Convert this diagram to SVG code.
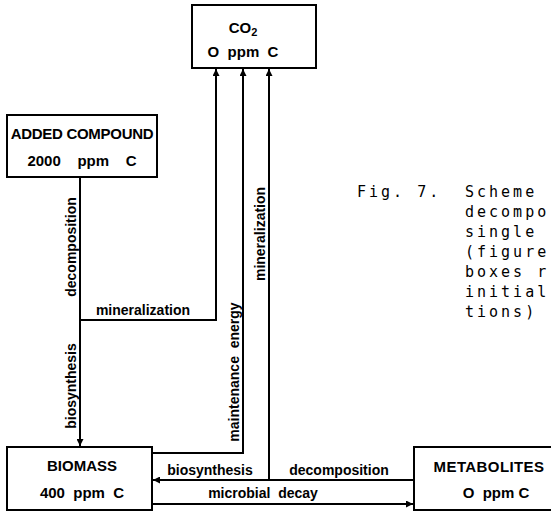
<svg xmlns="http://www.w3.org/2000/svg" width="551" height="513" viewBox="0 0 551 513">
<style>
.box{fill:#fff;stroke:#000;stroke-width:2}
.t{font-family:"Liberation Sans",Arial,sans-serif;font-weight:bold;font-size:15px;fill:#000}
.lbl{font-family:"Liberation Sans",Arial,sans-serif;font-weight:bold;font-size:14px;fill:#000}
.c{text-anchor:middle}
.ln{fill:none;stroke:#000;stroke-width:2}
.cap{font-family:"DejaVu Sans Mono",monospace;font-size:15px;letter-spacing:3px;fill:#000}
</style>
<defs>
<marker id="ah" viewBox="0 0 10 10" refX="10" refY="5" markerWidth="8" markerHeight="7" orient="auto" markerUnits="userSpaceOnUse"><path d="M0,0 L10,5 L0,10 z" fill="#000"/></marker>
</defs>
<rect width="551" height="513" fill="#fff"/>
<g id="connectors">
<path class="ln" d="M80,177 V446" marker-end="url(#ah)"/>
<path class="ln" d="M80,320 H216 V69" marker-end="url(#ah)"/>
<path class="ln" d="M152,453 H243 V69" marker-end="url(#ah)"/>
<path class="ln" d="M269,480 V69" marker-end="url(#ah)"/>
<path class="ln" d="M414,480 H153" marker-end="url(#ah)"/>
<path class="ln" d="M152,504 H413" marker-end="url(#ah)"/>
<text class="lbl" transform="translate(76,247) rotate(-90)" text-anchor="middle">decomposition</text>
<text class="lbl" transform="translate(76,386) rotate(-90)" text-anchor="middle">biosynthesis</text>
<text class="lbl" x="143" y="315" text-anchor="middle" font-size="15">mineralization</text>
<text class="lbl" transform="translate(239,372) rotate(-90)" text-anchor="middle" xml:space="preserve">maintenance  energy</text>
<text class="lbl" transform="translate(265,234) rotate(-90)" text-anchor="middle">mineralization</text>
<text class="lbl" x="210" y="475" text-anchor="middle">biosynthesis</text>
<text class="lbl" x="339" y="475" text-anchor="middle">decomposition</text>
<text class="lbl" x="263" y="498" text-anchor="middle" xml:space="preserve">microbial  decay</text>
</g>
<g id="co2">
<rect class="box" x="192" y="5" width="124" height="63"/>
<text class="t c" x="243" y="33">CO<tspan font-size="11" dy="3">2</tspan></text>
<text class="t c" x="243" y="57" xml:space="preserve">O  ppm  C</text>
</g>
<g id="added">
<rect class="box" x="7" y="115" width="150" height="62"/>
<text class="t c" x="82" y="139" letter-spacing="-0.3">ADDED COMPOUND</text>
<text class="t c" x="82" y="166" xml:space="preserve">2000    ppm    C</text>
</g>
<g id="biomass">
<rect class="box" x="7" y="447" width="145" height="63"/>
<text class="t c" x="82" y="471">BIOMASS</text>
<text class="t c" x="82" y="498" xml:space="preserve">400  ppm  C</text>
</g>
<g id="metabolites">
<rect class="box" x="414" y="447" width="145" height="63"/>
<text class="t c" x="489" y="472" letter-spacing="0.4">METABOLITES</text>
<text class="t c" x="496" y="498" xml:space="preserve">O  ppm C</text>
</g>
<g id="caption">
<text class="cap" x="357" y="197">Fig. 7.</text>
<text class="cap" x="465" y="197">Scheme</text>
<text class="cap" x="465" y="217">decompo</text>
<text class="cap" x="465" y="237">single</text>
<text class="cap" x="465" y="257">(figure</text>
<text class="cap" x="465" y="277">boxes r</text>
<text class="cap" x="465" y="297">initial</text>
<text class="cap" x="465" y="317">tions)</text>
</g>
</svg>
